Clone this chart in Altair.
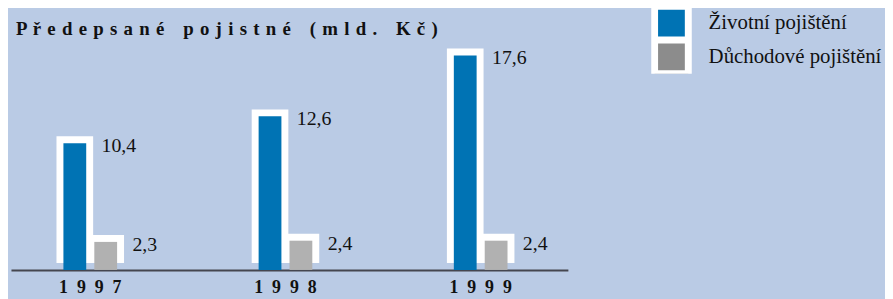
import altair as alt
import pandas as pd

years = ["1997", "1998", "1999"]
series = ["Životní pojištění", "Důchodové pojištění"]
zivotni = [10.4, 12.6, 17.6]
duchodove = [2.3, 2.4, 2.4]
title_words = ["Předepsané", "pojistné", "(mld.", "Kč)"]

BLUE = "#0073B4"
BAR_GRAY = "#B1B1B1"
LEG_GRAY = "#8C8C8C"
BG = "#BACBE5"
FONT = "Liberation Serif"

rows = []
for i, y in enumerate(years):
    for s, vals in zip(series, [zivotni, duchodove]):
        v = vals[i]
        rows.append({"year": y, "series": s, "value": v,
                     "label": f"{v:.1f}".replace(".", ",")})
df = pd.DataFrame(rows)

title_text = " \u2002 ".join(" \u200a".join(list(w)) for w in title_words)

base = alt.Chart(df).encode(
    x=alt.X("year:N", title=None,
            scale=alt.Scale(paddingInner=0.5, paddingOuter=0.1765, align=0.4424),
            axis=alt.Axis(domain=True, domainColor="#45464F", domainWidth=2,
                          ticks=False, grid=False, labelAngle=0,
                          labelFont=FONT, labelFontSize=18, labelFontWeight="bold",
                          labelColor="#111111", labelPadding=9,
                          labelExpr="join(split(datum.label, ''), '\u2002')")),
    xOffset=alt.XOffset("series:N", sort=series,
                        scale=alt.Scale(domain=series, paddingInner=0, paddingOuter=0.58)),
)

yenc = alt.Y("value:Q", scale=alt.Scale(domain=[0, 20]), axis=None)

legend_layer = base.mark_square(size=60, opacity=1).encode(
    y=alt.YDatum(1.5, scale=alt.Scale(domain=[0, 20]), axis=None),
    fill=alt.Fill("series:N", sort=series,
                  scale=alt.Scale(domain=series, range=[BLUE, LEG_GRAY]),
                  legend=alt.Legend(title=None, orient="none", legendX=646,
                                    legendY=-20, direction="vertical",
                                    symbolType="square", symbolSize=1156,
                                    symbolStrokeColor="white", symbolStrokeWidth=7,
                                    symbolOpacity=1, rowPadding=0, clipHeight=34,
                                    labelFont=FONT, labelFontSize=21,
                                    labelColor="#111111", labelOffset=17,
                                    labelLimit=300, padding=0))
)
white = base.mark_bar(color="white", size=37, yOffset=-7).encode(y=yenc)
bars = base.mark_bar(size=23).encode(
    y=yenc,
    color=alt.Color("series:N", sort=series,
                    scale=alt.Scale(domain=series, range=[BLUE, BAR_GRAY]),
                    legend=None)
)
labels = base.mark_text(align="left", baseline="middle", dx=27, dy=3,
                        font=FONT, fontSize=20, color="#111111").encode(
    y=yenc, text="label:N"
)

title = alt.Chart(pd.DataFrame({"t": [title_text]})).mark_text(
    align="left", baseline="alphabetic", font=FONT, fontSize=19,
    fontWeight="bold", color="#111111"
).encode(x=alt.value(5), y=alt.value(9), text="t:N")

chart = alt.layer(legend_layer, white, bars, labels, title).properties(
    width=562, height=246,
    autosize=alt.AutoSizeParams(type="none"),
    padding={"left": 3, "top": 17, "right": 320, "bottom": 28},
    background=BG,
).configure_view(stroke=None)

chart.save("out.html", embed_options={"renderer": "svg", "actions": False})
